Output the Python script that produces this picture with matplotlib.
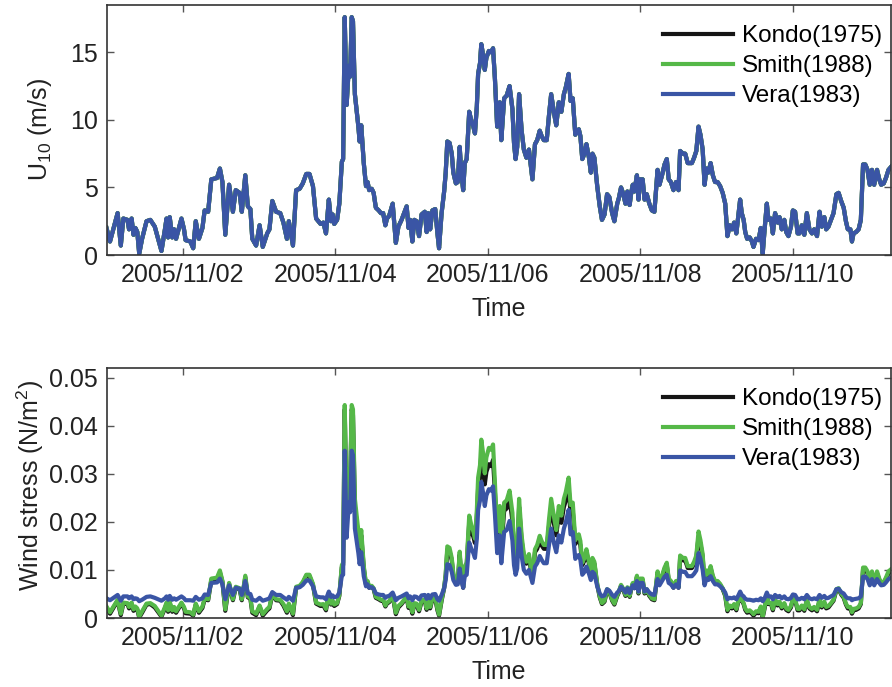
import datetime as dt
import numpy as np
import matplotlib
matplotlib.use('Agg')
import matplotlib.pyplot as plt
import matplotlib.dates as mdates

plt.rcParams['font.family'] = ['Liberation Sans', 'DejaVu Sans']
plt.rcParams['mathtext.fontset'] = 'custom'
plt.rcParams['mathtext.rm'] = 'Liberation Sans'
plt.rcParams['mathtext.it'] = 'Liberation Sans:italic'

start = dt.datetime(2005, 11, 1)

# hours after 2005/11/01 00:00
hours = np.array([
    0.0, 1.1, 3.5, 4.5, 5.3, 6.6, 7.1, 7.9, 8.5, 9.1,
    9.7, 10.3, 11.2, 12.6, 13.8, 15.2, 17.3, 18.4, 18.9, 19.4,
    19.9, 20.7, 21.3, 21.9, 23.6, 24.4, 24.9, 26.4, 27.3, 28.1,
    29.1, 30.2, 30.9, 32.0, 33.0, 34.8, 35.7, 36.5, 37.4, 38.6,
    39.8, 40.7, 41.9, 42.6, 43.7, 44.5, 45.3, 45.9, 47.1, 48.2,
    49.2, 50.6, 51.3, 52.2, 53.4, 54.7, 55.7, 56.8, 57.4, 58.7,
    59.7, 60.8, 61.8, 62.9, 63.9, 65.0, 66.0, 67.4, 68.3, 69.1,
    70.0, 70.7, 71.2, 71.7, 72.6, 73.3, 74.1, 74.5, 75.0, 75.6,
    76.3, 76.7, 77.2, 77.6, 78.2, 79.3, 79.7, 80.2, 81.0, 81.7,
    82.2, 82.7, 83.5, 84.1, 84.8, 85.7, 86.4, 87.1, 87.8, 88.3,
    89.0, 90.1, 91.1, 91.9, 92.9, 94.5, 95.1, 95.6, 96.3, 96.9,
    97.6, 98.4, 99.2, 100.2, 100.8, 101.3, 101.9, 102.6, 103.5, 104.2,
    104.7, 105.5, 106.3, 106.8, 107.3, 108.0, 108.7, 109.2, 110.0, 110.6,
    111.2, 111.7, 112.3, 112.8, 113.4, 114.2, 114.9, 115.5, 116.0, 116.6,
    117.0, 117.6, 118.0, 118.5, 119.1, 119.6, 120.4, 121.1, 121.7, 122.3,
    123.0, 123.8, 124.3, 125.2, 126.0, 126.9, 127.8, 128.3, 128.8, 129.3,
    129.9, 130.7, 131.4, 132.2, 133.0, 134.1, 134.9, 135.6, 136.4, 137.0,
    137.7, 138.6, 139.3, 140.0, 140.9, 141.6, 142.4, 143.2, 144.0, 144.6,
    145.5, 146.1, 146.8, 147.6, 148.2, 148.7, 149.2, 149.8, 150.5, 151.1,
    151.9, 152.5, 153.0, 153.6, 154.5, 155.3, 156.0, 156.8, 157.6, 158.3,
    159.2, 159.9, 160.8, 161.3, 162.0, 162.6, 163.4, 164.0,
    164.7, 165.2, 165.7, 166.2, 167.0, 167.5, 168.0, 168.8, 169.4, 170.1,
    170.9, 171.7, 172.5, 173.5, 174.1, 174.9, 175.7, 176.4, 177.0, 177.7,
    178.5, 179.3, 180.1, 180.6, 181.5, 182.2, 183.0, 184.3, 185.0, 185.7,
    186.4, 187.0, 187.7, 188.3, 188.9, 189.5, 190.2, 190.9, 191.6, 192.4,
    193.2, 194.0, 194.8, 195.5, 196.2, 196.9, 197.6, 198.3, 199.0, 199.5,
    200.0, 200.6, 201.1, 201.7, 202.5, 203.2, 203.7, 204.5, 205.3, 206.0,
    206.6, 207.2, 207.9, 208.4, 209.2, 209.8, 210.5, 211.3, 211.9, 212.6,
    213.4, 214.0, 214.7, 215.5, 216.1, 216.8, 217.6, 218.2, 218.9, 219.7,
    220.5, 221.3, 222.1, 222.8, 223.7, 224.5, 225.2, 226.0, 226.6, 227.3,
    228.1, 228.9, 229.8, 230.5, 231.3, 232.1, 232.8, 233.4, 234.2, 234.7,
    235.2, 236.0, 236.8, 237.5, 238.2, 238.9, 239.6, 240.3, 241.0, 241.7,
    242.6, 243.3, 243.9, 244.7, 245.4, 246.2, 247.3,
])

# 10 m wind speed (m/s)
u10 = np.array([
    2.0, 1.0, 3.1, 0.7, 2.7, 2.6, 1.9, 2.7, 1.5, 2.0,
    1.7, 0.1, 1.2, 2.5, 2.6, 2.1, 0.3, 1.9, 2.7, 1.3,
    2.8, 1.3, 1.9, 1.2, 2.7, 1.9, 1.1, 1.0, 0.5, 2.5,
    1.2, 2.0, 3.3, 3.2, 5.6, 5.7, 6.4, 5.4, 1.5, 5.2,
    3.2, 4.8, 4.6, 3.2, 5.9, 3.6, 3.4, 1.2, 0.7, 2.2,
    0.6, 1.6, 1.9, 4.0, 3.2, 3.1, 2.4, 1.2, 2.5, 0.7,
    4.8, 4.9, 5.3, 6.0, 6.0, 5.1, 2.7, 2.3, 2.4, 1.6,
    4.1, 2.5, 3.0, 2.3, 2.6, 3.8, 6.9, 7.1, 17.6, 11.1,
    14.0, 13.2, 17.6, 17.3, 11.9, 9.5, 8.4, 9.6, 6.8, 5.1,
    5.4, 4.8, 4.9, 4.6, 3.5, 3.3, 3.1, 3.1, 2.2, 2.7,
    2.9, 3.8, 0.9, 2.1, 2.6, 3.6, 2.0, 2.6, 1.0, 2.6,
    2.5, 1.4, 3.0, 3.2, 1.7, 3.1, 1.9, 3.3, 3.4, 1.6,
    0.5, 3.1, 4.7, 6.1, 8.4, 8.3, 7.5, 6.1, 5.3, 5.4,
    8.0, 6.1, 4.8, 6.8, 7.1, 10.6, 9.9, 9.5, 9.0, 11.0,
    13.4, 14.2, 15.6, 14.9, 13.7, 14.6, 15.1, 15.0, 15.3, 13.0,
    9.5, 11.3, 8.5, 11.6, 11.8, 12.5, 10.8, 8.3, 7.1, 8.0,
    11.9, 9.2, 7.8, 7.2, 7.8, 5.6, 8.2, 8.5, 9.2, 8.8,
    8.5, 8.5, 10.3, 11.9, 10.5, 9.6, 11.3, 10.6, 11.9, 12.4,
    13.4, 11.4, 11.6, 8.9, 9.2, 9.3, 8.8, 7.1, 7.5, 8.2,
    7.2, 6.1, 7.5, 7.2, 5.1, 3.6, 2.6, 3.0, 4.5, 4.3,
    3.1, 2.5, 3.8, 4.2, 5.0, 4.6, 3.8, 4.7,
    3.7, 4.6, 5.2, 4.7, 5.9, 4.1, 5.6, 5.6, 4.1, 4.5,
    3.8, 3.3, 3.2, 6.3, 5.2, 5.9, 6.7, 7.1, 5.6, 5.4,
    4.8, 5.4, 4.8, 7.7, 7.5, 7.5, 6.8, 6.8, 7.2, 7.7,
    9.5, 8.9, 7.8, 5.2, 6.4, 6.1, 6.8, 5.9, 5.4, 5.4,
    5.1, 4.6, 3.8, 1.4, 2.2, 1.9, 2.4, 1.6, 3.1, 4.1,
    3.1, 2.6, 1.7, 1.2, 1.3, 1.0, 0.6, 1.2, 1.1, 2.0,
    0.1, 1.9, 3.8, 2.6, 2.7, 1.6, 3.1, 2.4, 2.8, 1.9,
    2.6, 1.7, 1.4, 2.1, 3.3, 3.2, 1.6, 1.6, 2.2, 1.5,
    3.1, 1.9, 1.6, 1.9, 1.4, 3.2, 2.1, 2.8, 1.9, 2.1,
    2.6, 3.1, 4.5, 4.6, 4.0, 3.5, 2.5, 1.9, 1.9, 1.0,
    1.6, 1.7, 1.9, 2.6, 6.7, 6.7, 6.3, 5.2, 6.3, 5.2,
    6.3, 5.6, 5.2, 5.3, 5.7, 6.3, 6.6,
])

# wind stress, 1e-3 N/m^2
kondo_mn = np.array([
    2.1, 0.9, 3.6, 0.6, 3.0, 2.9, 2.0, 3.0, 1.5, 2.1,
    1.7, 0.1, 1.1, 2.8, 2.9, 2.2, 0.3, 2.0, 3.0, 1.3,
    3.1, 1.3, 2.0, 1.1, 3.0, 2.0, 1.0, 0.9, 0.5, 2.8,
    1.1, 2.1, 3.9, 3.7, 7.9, 8.1, 9.5, 7.5, 1.5, 7.1,
    3.7, 6.3, 6.0, 3.7, 8.5, 4.3, 4.0, 1.1, 0.6, 2.4,
    0.5, 1.6, 2.0, 4.9, 3.7, 3.6, 2.6, 1.1, 2.8, 0.6,
    6.3, 6.5, 7.3, 8.7, 8.7, 6.9, 3.0, 2.5, 2.6, 1.6,
    5.1, 2.8, 3.4, 2.5, 2.9, 4.6, 10.6, 11.0, 43.4, 21.1,
    28.6, 26.5, 43.4, 42.2, 23.1, 16.9, 14.2, 17.2, 10.4, 6.9,
    7.5, 6.3, 6.5, 6.0, 4.2, 3.9, 3.6, 3.6, 2.4, 3.0,
    3.3, 4.6, 0.8, 2.2, 2.9, 4.3, 2.1, 2.9, 0.9, 2.9,
    2.8, 1.4, 3.4, 3.7, 1.7, 3.6, 2.0, 3.9, 4.0, 1.6,
    0.5, 3.6, 6.2, 8.9, 14.2, 13.9, 12.0, 8.9, 7.3, 7.5,
    13.2, 8.9, 6.3, 10.4, 11.0, 19.8, 17.9, 16.9, 15.6, 20.8,
    27.0, 29.2, 34.2, 31.3, 27.8, 30.4, 32.0, 31.6, 32.9, 26.0,
    16.9, 21.6, 14.4, 22.3, 22.8, 24.7, 20.3, 13.9, 11.0, 13.2,
    23.1, 16.1, 12.7, 11.3, 12.7, 7.9, 13.7, 14.4, 16.1, 15.1,
    14.4, 14.4, 19.0, 23.1, 19.5, 17.2, 21.6, 19.8, 23.1, 24.4,
    27.0, 21.8, 22.3, 15.4, 16.1, 16.4, 15.1, 11.0, 12.0, 13.7,
    11.3, 8.9, 12.0, 11.3, 6.9, 4.3, 2.9, 3.4, 5.8, 5.4,
    3.6, 2.8, 4.6, 5.3, 6.7, 6.0, 4.6, 6.2,
    4.4, 6.0, 7.1, 6.2, 8.5, 5.1, 7.9, 7.9, 5.1, 5.8,
    4.6, 3.9, 3.7, 9.3, 7.1, 8.5, 10.2, 11.0, 7.9, 7.5,
    6.3, 7.5, 6.3, 12.5, 12.0, 12.0, 10.4, 10.4, 11.3, 12.5,
    16.9, 15.4, 12.7, 7.1, 9.5, 8.9, 10.4, 8.5, 7.5, 7.5,
    6.9, 6.0, 4.6, 1.4, 2.4, 2.0, 2.6, 1.6, 3.6, 5.1,
    3.6, 2.9, 1.7, 1.1, 1.3, 0.9, 0.5, 1.1, 1.0, 2.1,
    0.1, 2.0, 4.6, 2.9, 3.0, 1.6, 3.6, 2.6, 3.1, 2.0,
    2.9, 1.7, 1.4, 2.2, 3.9, 3.7, 1.6, 1.6, 2.4, 1.5,
    3.6, 2.0, 1.6, 2.0, 1.4, 3.7, 2.2, 3.1, 2.0, 2.2,
    2.9, 3.6, 5.8, 6.0, 4.9, 4.2, 2.8, 2.0, 2.0, 0.9,
    1.6, 1.7, 2.0, 2.9, 10.2, 10.2, 9.3, 7.1, 9.3, 7.1,
    9.3, 7.9, 7.1, 7.3, 8.1, 9.3, 9.9,
])

smith_mn = np.array([
    2.4, 1.2, 3.8, 0.9, 3.2, 3.1, 2.3, 3.2, 1.8, 2.4,
    2.0, 0.3, 1.4, 3.0, 3.1, 2.5, 0.5, 2.3, 3.2, 1.6,
    3.4, 1.6, 2.3, 1.4, 3.2, 2.3, 1.3, 1.2, 0.7, 3.0,
    1.4, 2.4, 4.1, 3.9, 8.2, 8.4, 9.9, 7.7, 1.8, 7.3,
    3.9, 6.5, 6.2, 3.9, 8.8, 4.5, 4.2, 1.4, 0.9, 2.6,
    0.8, 1.9, 2.3, 5.1, 3.9, 3.8, 2.9, 1.4, 3.0, 0.9,
    6.5, 6.7, 7.5, 9.0, 9.0, 7.1, 3.2, 2.8, 2.9, 1.9,
    5.3, 3.0, 3.6, 2.8, 3.1, 4.8, 11.0, 11.5, 44.3, 22.8,
    31.0, 28.6, 44.3, 43.4, 24.8, 18.0, 14.9, 18.3, 10.8, 7.1,
    7.7, 6.5, 6.7, 6.2, 4.4, 4.1, 3.8, 3.8, 2.6, 3.2,
    3.5, 4.8, 1.1, 2.5, 3.1, 4.5, 2.4, 3.1, 1.2, 3.1,
    3.0, 1.7, 3.6, 3.9, 2.0, 3.8, 2.3, 4.1, 4.2, 1.9,
    0.7, 3.8, 6.4, 9.2, 14.9, 14.6, 12.5, 9.2, 7.5, 7.7,
    13.8, 9.2, 6.5, 10.8, 11.5, 21.3, 19.2, 18.0, 16.5, 22.5,
    29.2, 31.8, 37.1, 34.6, 30.1, 33.4, 35.4, 35.0, 36.1, 28.0,
    18.0, 23.3, 15.2, 24.0, 24.5, 26.5, 21.9, 14.6, 11.5, 13.8,
    24.8, 17.1, 13.3, 11.7, 13.3, 8.2, 14.3, 15.2, 17.1, 16.0,
    15.2, 15.2, 20.4, 24.8, 21.0, 18.3, 23.3, 21.3, 24.8, 26.2,
    29.2, 23.5, 24.0, 16.2, 17.1, 17.4, 16.0, 11.5, 12.5, 14.3,
    11.7, 9.2, 12.5, 11.7, 7.1, 4.5, 3.1, 3.6, 6.0, 5.6,
    3.8, 3.0, 4.8, 5.5, 6.9, 6.2, 4.8, 6.4,
    4.6, 6.2, 7.3, 6.4, 8.8, 5.3, 8.2, 8.2, 5.3, 6.0,
    4.8, 4.1, 3.9, 9.7, 7.3, 8.8, 10.5, 11.5, 8.2, 7.7,
    6.5, 7.7, 6.5, 13.0, 12.5, 12.5, 10.8, 10.8, 11.7, 13.0,
    18.0, 16.2, 13.3, 7.3, 9.9, 9.2, 10.8, 8.8, 7.7, 7.7,
    7.1, 6.2, 4.8, 1.7, 2.6, 2.3, 2.9, 1.9, 3.8, 5.3,
    3.8, 3.1, 2.0, 1.4, 1.6, 1.2, 0.8, 1.4, 1.3, 2.4,
    0.3, 2.3, 4.8, 3.1, 3.2, 1.9, 3.8, 2.9, 3.4, 2.3,
    3.1, 2.0, 1.7, 2.5, 4.1, 3.9, 1.9, 1.9, 2.6, 1.8,
    3.8, 2.3, 1.9, 2.3, 1.7, 3.9, 2.5, 3.4, 2.3, 2.5,
    3.1, 3.8, 6.0, 6.2, 5.1, 4.4, 3.0, 2.3, 2.3, 1.2,
    1.9, 2.0, 2.3, 3.1, 10.5, 10.5, 9.7, 7.3, 9.7, 7.3,
    9.7, 8.2, 7.3, 7.5, 8.4, 9.7, 10.3,
])

vera_mn = np.array([
    4.1, 3.7, 4.8, 3.6, 4.5, 4.5, 4.1, 4.5, 3.9, 4.1,
    4.0, 3.5, 3.8, 4.4, 4.5, 4.2, 3.6, 4.1, 4.5, 3.8,
    4.6, 3.8, 4.1, 3.8, 4.5, 4.1, 3.7, 3.7, 3.6, 4.4,
    3.8, 4.1, 4.9, 4.8, 7.3, 7.4, 8.2, 7.0, 3.9, 6.8,
    4.8, 6.3, 6.1, 4.8, 7.7, 5.1, 5.0, 3.8, 3.6, 4.2,
    3.6, 3.9, 4.1, 5.4, 4.8, 4.8, 4.3, 3.8, 4.4, 3.6,
    6.3, 6.4, 6.9, 7.8, 7.8, 6.6, 4.5, 4.3, 4.3, 3.9,
    5.5, 4.4, 4.7, 4.3, 4.5, 5.3, 8.8, 9.0, 34.8, 16.7,
    24.0, 22.0, 34.8, 33.9, 18.6, 13.5, 11.2, 13.7, 8.7, 6.6,
    7.0, 6.3, 6.4, 6.1, 5.1, 4.9, 4.8, 4.8, 4.2, 4.5,
    4.6, 5.3, 3.7, 4.2, 4.5, 5.1, 4.1, 4.5, 3.7, 4.5,
    4.4, 3.9, 4.7, 4.8, 4.0, 4.8, 4.1, 4.9, 5.0, 3.9,
    3.6, 4.8, 6.2, 7.9, 11.2, 11.0, 9.6, 7.9, 6.9, 7.0,
    10.3, 7.9, 6.3, 8.7, 9.0, 15.7, 14.3, 13.5, 12.5, 16.5,
    22.5, 24.5, 28.3, 26.3, 23.3, 25.5, 26.8, 26.5, 27.4, 21.5,
    13.5, 17.2, 11.4, 17.9, 18.3, 20.2, 16.1, 11.0, 9.0, 10.3,
    18.6, 12.9, 10.0, 9.2, 10.0, 7.3, 10.7, 11.4, 12.9, 12.1,
    11.4, 11.4, 15.1, 18.6, 15.5, 13.7, 17.2, 15.7, 18.6, 19.9,
    22.5, 17.4, 17.9, 12.3, 12.9, 13.1, 12.1, 9.0, 9.6, 10.7,
    9.2, 7.9, 9.6, 9.2, 6.6, 5.1, 4.5, 4.7, 6.0, 5.7,
    4.8, 4.4, 5.3, 5.6, 6.5, 6.1, 5.3, 6.2,
    5.2, 6.1, 6.8, 6.2, 7.7, 5.5, 7.3, 7.3, 5.5, 6.0,
    5.3, 4.9, 4.8, 8.1, 6.8, 7.7, 8.6, 9.0, 7.3, 7.0,
    6.3, 7.0, 6.3, 9.9, 9.6, 9.6, 8.7, 8.7, 9.2, 9.9,
    13.5, 12.3, 10.0, 6.8, 8.2, 7.9, 8.7, 7.7, 7.0, 7.0,
    6.6, 6.1, 5.3, 3.9, 4.2, 4.1, 4.3, 3.9, 4.8, 5.5,
    4.8, 4.5, 4.0, 3.8, 3.8, 3.7, 3.6, 3.8, 3.7, 4.1,
    3.5, 4.1, 5.3, 4.5, 4.5, 3.9, 4.8, 4.3, 4.6, 4.1,
    4.5, 4.0, 3.9, 4.2, 4.9, 4.8, 3.9, 3.9, 4.2, 3.9,
    4.8, 4.1, 3.9, 4.1, 3.9, 4.8, 4.2, 4.6, 4.1, 4.2,
    4.5, 4.8, 6.0, 6.1, 5.4, 5.1, 4.4, 4.1, 4.1, 3.7,
    3.9, 4.0, 4.1, 4.5, 8.6, 8.6, 8.1, 6.8, 8.1, 6.8,
    8.1, 7.3, 6.8, 6.9, 7.4, 8.1, 8.5,
])

kondo = kondo_mn * 1e-3
smith = smith_mn * 1e-3
vera = vera_mn * 1e-3

labels = ['Kondo(1975)', 'Smith(1988)', 'Vera(1983)']
colors = ['#151515', '#55b848', '#3a55a5']

times = [start + dt.timedelta(hours=float(h)) for h in hours]
t_end = start + dt.timedelta(hours=247)

fig = plt.figure(figsize=(8.92, 6.87), dpi=100)
ax1 = fig.add_axes([0.1194, 0.6288, 0.8795, 0.3639])
ax2 = fig.add_axes([0.1194, 0.1004, 0.8795, 0.3639])

# U10 is the same input for all three drag laws
for lab, col in zip(labels, colors):
    ax1.plot(times, u10, color=col, lw=3.0, label=lab, solid_joinstyle='round')

for series, lab, col in zip([kondo, smith, vera], labels, colors):
    ax2.plot(times, series, color=col, lw=3.0, label=lab, solid_joinstyle='round')

for ax in (ax1, ax2):
    ax.set_xlim(start, t_end)
    ax.xaxis.set_major_locator(mdates.DayLocator(bymonthday=[2, 4, 6, 8, 10]))
    ax.xaxis.set_major_formatter(mdates.DateFormatter('%Y/%m/%d'))
    ax.tick_params(direction='in', length=5, width=1, colors='#555555',
                   labelcolor='#222222', labelsize=18, top=True, right=True, pad=6)
    for sp in ax.spines.values():
        sp.set_color('#333333')
        sp.set_linewidth(1.2)
    ax.set_xlabel('Time', fontsize=18, color='#222222', labelpad=7)
    leg = ax.legend(loc='upper right', bbox_to_anchor=(0.9885, 0.92),
                    frameon=False, fontsize=17.5, borderpad=0, borderaxespad=0,
                    handlelength=2.9, handletextpad=0.35, labelspacing=0.33)
    for line in leg.get_lines():
        line.set_linewidth(3.0)

ax1.set_ylim(0, 18.5)
ax1.set_yticks([0, 5, 10, 15])
ax1.set_ylabel('U$_{10}$ (m/s)', fontsize=18, color='#222222')
ax1.yaxis.set_label_coords(-0.067, 0.5)

ax2.set_ylim(0, 0.052)
ax2.set_yticks([0, 0.01, 0.02, 0.03, 0.04, 0.05])
ax2.set_yticklabels(['0', '0.01', '0.02', '0.03', '0.04', '0.05'])
ax2.set_ylabel('Wind stress (N/m$^2$)', fontsize=18, color='#222222')
ax2.yaxis.set_label_coords(-0.077, 0.53)

fig.savefig('out.png', dpi=100)
